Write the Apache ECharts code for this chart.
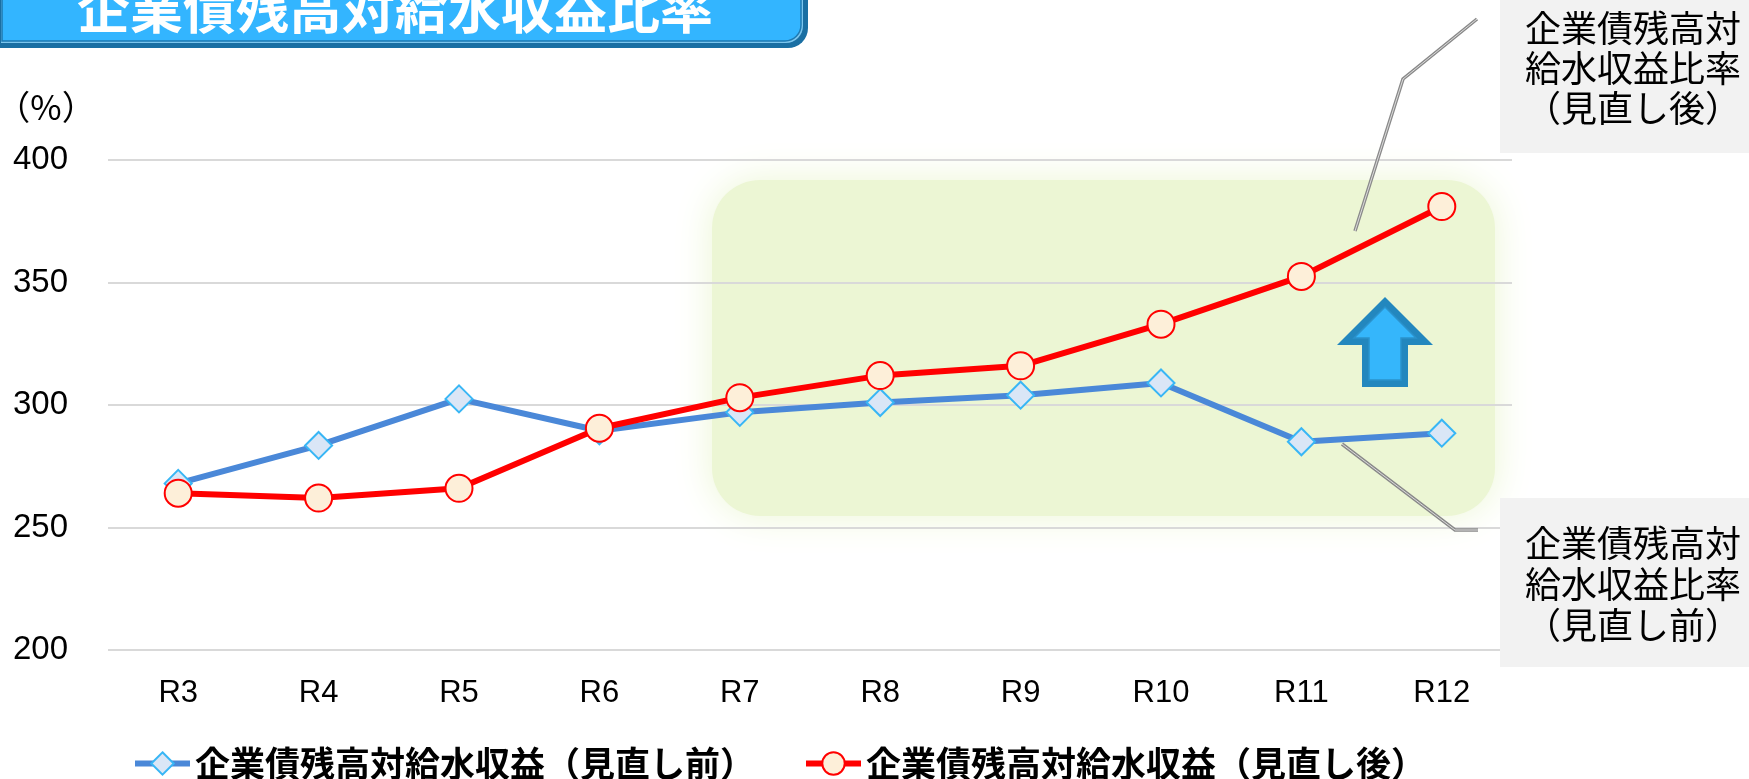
<!DOCTYPE html>
<html>
<head>
<meta charset="utf-8">
<script src="https://cdn.jsdelivr.net/npm/echarts@6/dist/echarts.min.js"></script>
<style>
html,body{margin:0;padding:0;background:#fff}
#chart{width:1749px;height:779px}
</style>
</head>
<body>
<div id="chart"></div>
<script>
// data
const categories=['R3','R4','R5','R6','R7','R8','R9','R10','R11','R12'];
const beforeValues=[268,283.5,302.5,289.5,297,301,304,309,285,288.5];
const afterValues=[264,262,266,290.5,303,312,316,333,352.5,381];
const yMin=200, yMax=400, yStep=50;
const titleText='企業債残高対給水収益比率';
const seriesNames=['企業債残高対給水収益（見直し前）','企業債残高対給水収益（見直し後）'];
const noteAfter=['企業債残高対','給水収益比率','（見直し後）'];
const noteBefore=['企業債残高対','給水収益比率','（見直し前）'];

const CJK='"Noto Sans CJK JP","Noto Sans CJK SC",sans-serif';
const LATIN='"Liberation Sans",Arial,sans-serif';
const chart=echarts.init(document.getElementById('chart'));

const option={
    animation:false,
    backgroundColor:'#ffffff',
    grid:{left:108,right:237,top:160,bottom:129},
    xAxis:{
        type:'category',
        data:categories,
        boundaryGap:true,
        axisLine:{show:false},
        axisTick:{show:false},
        axisLabel:{color:'#000',fontSize:31,fontFamily:LATIN,margin:28}
    },
    yAxis:{
        type:'value',
        min:yMin,max:yMax,interval:yStep,
        axisLine:{show:false},
        axisTick:{show:false},
        axisLabel:{color:'#000',fontSize:33,fontFamily:LATIN,margin:40},
        splitLine:{lineStyle:{color:'#d9d9d9',width:2}}
    },
    legend:{
        left:127,top:741,
        itemWidth:55,itemHeight:28,itemGap:48,
        textStyle:{color:'#000',fontSize:35,fontFamily:CJK,fontWeight:'bold'},
        data:[
            {name:seriesNames[0],lineStyle:{width:6}},
            {name:seriesNames[1],lineStyle:{width:6}}
        ]
    },
    series:[
        {
            name:seriesNames[0],type:'line',data:beforeValues,
            symbol:'diamond',symbolSize:27,z:3,
            lineStyle:{color:'#4a88d8',width:6},
            itemStyle:{color:'#dae6f6',borderColor:'#38b6f5',borderWidth:2},
            emphasis:{disabled:true}
        },
        {
            name:seriesNames[1],type:'line',data:afterValues,
            symbol:'circle',symbolSize:27,z:4,
            lineStyle:{color:'#ff0000',width:6},
            itemStyle:{color:'#fdefd9',borderColor:'#ff0000',borderWidth:2},
            emphasis:{disabled:true}
        }
    ],
    graphic:[
        // soft green highlight area
        {type:'rect',z:-1,silent:true,
            shape:{x:712,y:180,width:783,height:336,r:48},
            style:{fill:'#ecf6d4',shadowBlur:38,shadowColor:'#ecf6d4'}},
        // title tab
        {type:'rect',z:50,shape:{x:-1,y:-20,width:809,height:68,r:[0,0,20,0]},
            style:{fill:'#1a6fa3'}},
        {type:'rect',z:51,shape:{x:1,y:-20,width:802,height:63,r:[0,0,17,0]},
            style:{fill:'#7cc6ee'}},
        {type:'rect',z:52,shape:{x:2,y:-20,width:799,height:61,r:[0,0,16,0]},
            style:{fill:'#33b5ff',stroke:'#1d7ab3',lineWidth:1.5}},
        {type:'text',z:53,style:{text:titleText,x:395,y:9,align:'center',verticalAlign:'middle',
            fill:'#fff',fontSize:53,fontWeight:'bold',fontFamily:CJK}},
        // unit
        {type:'text',style:{text:'（%）',x:46,y:107,align:'center',verticalAlign:'middle',
            fill:'#000',fontSize:34,fontFamily:CJK}},
        // up arrow
        {type:'polygon',z:5,shape:{points:[[1385,297],[1433,345],[1408,345],[1408,387],[1362,387],[1362,345],[1337,345]]},
            style:{fill:'#2387be'}},
        {type:'polygon',z:6,shape:{points:[[1385,307],[1416,338],[1401,338],[1401,380],[1369,380],[1369,338],[1354,338]]},
            style:{fill:'#35b6fb',stroke:'#2a92cc',lineWidth:1.5}},
        // note boxes
        {type:'rect',z:5,shape:{x:1500,y:0,width:249,height:153},style:{fill:'#f2f2f2'}},
        {type:'text',z:6,style:{text:noteAfter.join('\n'),x:1633,y:8,align:'center',verticalAlign:'top',
            lineHeight:40,fill:'#000',fontSize:36,fontFamily:CJK}},
        {type:'rect',z:5,shape:{x:1500,y:498,width:249,height:169},style:{fill:'#f2f2f2'}},
        {type:'text',z:6,style:{text:noteBefore.join('\n'),x:1633,y:523,align:'center',verticalAlign:'top',
            lineHeight:41,fill:'#000',fontSize:36,fontFamily:CJK}},
        // leader lines
        {type:'polyline',z:7,shape:{points:[[1355,231],[1403,79],[1477,19]]},
            style:{stroke:'#8a8a8a',lineWidth:3.5,fill:null}},
        {type:'polyline',z:8,shape:{points:[[1355,231],[1403,79],[1477,19]]},
            style:{stroke:'#dcdcdc',lineWidth:1,fill:null}},
        {type:'polyline',z:7,shape:{points:[[1342,444],[1455,530],[1478,530]]},
            style:{stroke:'#8a8a8a',lineWidth:3.5,fill:null}},
        {type:'polyline',z:8,shape:{points:[[1342,444],[1455,530],[1478,530]]},
            style:{stroke:'#dcdcdc',lineWidth:1,fill:null}}
    ]
};
chart.setOption(option);
</script>
</body>
</html>
